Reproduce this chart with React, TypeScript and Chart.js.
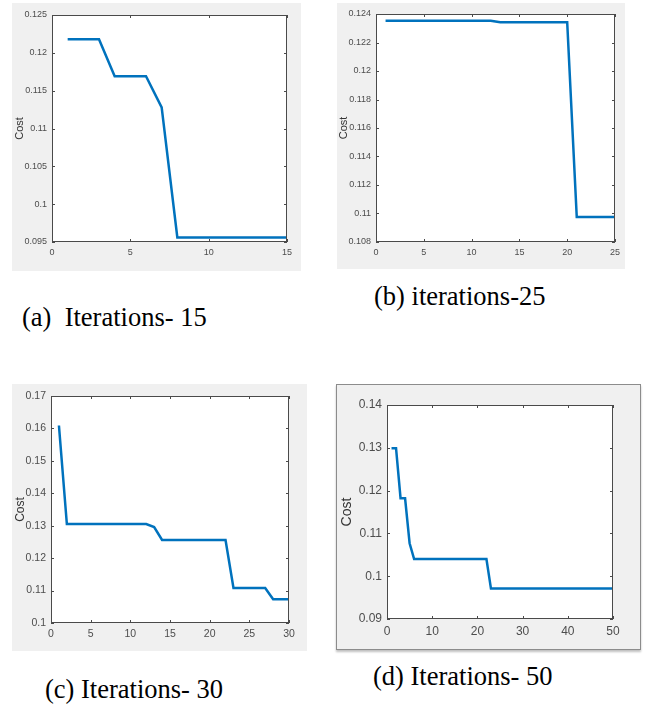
import React, { useEffect, useRef } from "react";
import { Chart, registerables } from "chart.js";

Chart.register(...registerables);

// ---- Data (cost per iteration, iteration = index + 1) ----
const costA = [0.1218, 0.1218, 0.1218, 0.1169, 0.1169, 0.1169, 0.1128, 0.0956, 0.0956, 0.0956, 0.0956, 0.0956, 0.0956, 0.0956, 0.0956];
const xTicksA = [0, 5, 10, 15];
const yTicksA = [0.095, 0.1, 0.105, 0.11, 0.115, 0.12, 0.125];

const costB = [0.12353, 0.12353, 0.12353, 0.12353, 0.12353, 0.12353, 0.12353, 0.12353, 0.12353, 0.12353, 0.12353, 0.12353, 0.12342, 0.12342, 0.12342, 0.12342, 0.12342, 0.12342, 0.12342, 0.12342, 0.10975, 0.10975, 0.10975, 0.10975, 0.10975];
const xTicksB = [0, 5, 10, 15, 20, 25];
const yTicksB = [0.108, 0.11, 0.112, 0.114, 0.116, 0.118, 0.12, 0.122, 0.124];

const costC = [0.1609, 0.1305, 0.1305, 0.1305, 0.1305, 0.1305, 0.1305, 0.1305, 0.1305, 0.1305, 0.1305, 0.1305, 0.1296, 0.1256, 0.1256, 0.1256, 0.1256, 0.1256, 0.1256, 0.1256, 0.1256, 0.1256, 0.1108, 0.1108, 0.1108, 0.1108, 0.1108, 0.1073, 0.1073, 0.1073];
const xTicksC = [0, 5, 10, 15, 20, 25, 30];
const yTicksC = [0.1, 0.11, 0.12, 0.13, 0.14, 0.15, 0.16, 0.17];

const costD = [0.1299, 0.1299, 0.1182, 0.1182, 0.1077, 0.104, 0.104, 0.104, 0.104, 0.104, 0.104, 0.104, 0.104, 0.104, 0.104, 0.104, 0.104, 0.104, 0.104, 0.104, 0.104, 0.104, 0.0971, 0.0971, 0.0971, 0.0971, 0.0971, 0.0971, 0.0971, 0.0971, 0.0971, 0.0971, 0.0971, 0.0971, 0.0971, 0.0971, 0.0971, 0.0971, 0.0971, 0.0971, 0.0971, 0.0971, 0.0971, 0.0971, 0.0971, 0.0971, 0.0971, 0.0971, 0.0971, 0.0971];
const xTicksD = [0, 10, 20, 30, 40, 50];
const yTicksD = [0.09, 0.1, 0.11, 0.12, 0.13, 0.14];

const captions = ["(a)  Iterations- 15", "(b) iterations-25", "(c) Iterations- 30", "(d) Iterations- 50"];

const LINE_COLOR = "#0072BD";
const AXIS_COLOR = "#4a4a4a";
const TICK_TEXT = "#4d4d4d";

const boxPlugin = {
  id: "matlabBox",
  beforeDatasetsDraw(chart: any) {
    const { ctx, chartArea } = chart;
    ctx.save();
    ctx.fillStyle = "#ffffff";
    ctx.fillRect(chartArea.left, chartArea.top, chartArea.right - chartArea.left, chartArea.bottom - chartArea.top);
    ctx.restore();
  },
  afterDraw(chart: any) {
    const { ctx, chartArea, scales } = chart;
    const { left, right, top, bottom } = chartArea;
    const x = scales.x;
    const y = scales.y;
    const tl = 3;
    ctx.save();
    ctx.strokeStyle = AXIS_COLOR;
    ctx.lineWidth = 1;
    ctx.beginPath();
    for (const t of x.ticks) {
      const px = Math.round(x.getPixelForValue(t.value)) + 0.5;
      ctx.moveTo(px, bottom);
      ctx.lineTo(px, bottom - tl);
      ctx.moveTo(px, top);
      ctx.lineTo(px, top + tl);
    }
    for (const t of y.ticks) {
      const py = Math.round(y.getPixelForValue(t.value)) + 0.5;
      ctx.moveTo(left, py);
      ctx.lineTo(left + tl, py);
      ctx.moveTo(right, py);
      ctx.lineTo(right - tl, py);
    }
    ctx.stroke();
    ctx.strokeRect(Math.round(left) + 0.5, Math.round(top) + 0.5, Math.round(right - left) - 1, Math.round(bottom - top) - 1);
    ctx.restore();
  },
};

type PanelProps = {
  values: number[];
  xTicks: number[];
  yTicks: number[];
  box: { left: number; top: number; width: number; height: number };
  area: { l: number; t: number; r: number; b: number };
  tickFont: number;
  titleFont: number;
  titlePad: number;
  border?: boolean;
};

function Panel(p: PanelProps) {
  const ref = useRef<HTMLCanvasElement>(null);
  useEffect(() => {
    if (!ref.current) return;
    const pts = p.values.map((v, i) => ({ x: i + 1, y: v }));
    const chart = new Chart(ref.current, {
      type: "line",
      data: {
        datasets: [
          {
            data: pts,
            borderColor: LINE_COLOR,
            borderWidth: 2.5,
            pointRadius: 0,
            tension: 0,
            fill: false,
          },
        ],
      },
      options: {
        animation: false,
        responsive: false,
        devicePixelRatio: 1,
        layout: { padding: { top: p.area.t, right: p.area.r, left: 0, bottom: 0 } },
        plugins: { legend: { display: false }, tooltip: { enabled: false } },
        scales: {
          x: {
            type: "linear",
            min: p.xTicks[0],
            max: p.xTicks[p.xTicks.length - 1],
            grid: { display: false, drawTicks: false },
            border: { display: false },
            afterBuildTicks: (s: any) => {
              s.ticks = p.xTicks.map((v) => ({ value: v }));
            },
            afterFit: (s: any) => {
              s.height = p.area.b;
            },
            ticks: {
              autoSkip: false,
              maxRotation: 0,
              padding: 5,
              color: TICK_TEXT,
              font: { family: "'Liberation Sans', Arial, sans-serif", size: p.tickFont },
              callback: (v: any) => String(v),
            },
          },
          y: {
            type: "linear",
            min: p.yTicks[0],
            max: p.yTicks[p.yTicks.length - 1],
            grid: { display: false, drawTicks: false },
            border: { display: false },
            afterBuildTicks: (s: any) => {
              s.ticks = p.yTicks.map((v) => ({ value: v }));
            },
            afterFit: (s: any) => {
              s.width = p.area.l;
            },
            title: {
              display: true,
              text: "Cost",
              color: "#333333",
              padding: { top: p.titlePad, bottom: 0 },
              font: { family: "'Liberation Sans', Arial, sans-serif", size: p.titleFont },
            },
            ticks: {
              autoSkip: false,
              padding: 5,
              color: TICK_TEXT,
              font: { family: "'Liberation Sans', Arial, sans-serif", size: p.tickFont },
              callback: (v: any) => String(parseFloat(Number(v).toFixed(4))),
            },
          },
        },
      },
      plugins: [boxPlugin],
    } as any);
    return () => chart.destroy();
  }, []);

  const b = p.box;
  return (
    <div
      style={{
        position: "absolute",
        left: b.left,
        top: b.top,
        width: b.width,
        height: b.height,
        background: "#f0f0f0",
        border: p.border ? "1px solid #8c8c8c" : "none",
        boxShadow: p.border ? "0 2px 2px rgba(0,0,0,0.25)" : "none",
      }}
    >
      <canvas
        ref={ref}
        width={b.width}
        height={b.height}
        style={{ display: "block", width: b.width, height: b.height }}
      />
    </div>
  );
}

const capStyle: React.CSSProperties = {
  position: "absolute",
  fontFamily: "'Liberation Serif', 'Times New Roman', serif",
  fontSize: 26.5,
  color: "#000",
  whiteSpace: "pre",
  lineHeight: 1,
};

export default function App() {
  return (
    <div style={{ position: "absolute", left: 0, top: 0, width: 646, height: 709, background: "#fff", overflow: "hidden" }}>
      <Panel
        values={costA}
        xTicks={xTicksA}
        yTicks={yTicksA}
        box={{ left: 12, top: 3, width: 289, height: 268 }}
        area={{ l: 40, t: 12, r: 14, b: 29 }}
        tickFont={9}
        titleFont={11}
        titlePad={1}
      />
      <Panel
        values={costB}
        xTicks={xTicksB}
        yTicks={yTicksB}
        box={{ left: 337, top: 3, width: 288, height: 266 }}
        area={{ l: 39, t: 11, r: 9, b: 27 }}
        tickFont={9}
        titleFont={11}
        titlePad={0}
      />
      <Panel
        values={costC}
        xTicks={xTicksC}
        yTicks={yTicksC}
        box={{ left: 12, top: 384, width: 295, height: 267 }}
        area={{ l: 39, t: 12, r: 18, b: 28 }}
        tickFont={10.5}
        titleFont={12}
        titlePad={1}
      />
      <Panel
        values={costD}
        xTicks={xTicksD}
        yTicks={yTicksD}
        box={{ left: 336, top: 384, width: 303, height: 264 }}
        area={{ l: 50, t: 20, r: 27, b: 30 }}
        tickFont={12}
        titleFont={14}
        titlePad={2}
        border
      />
      <div style={{ ...capStyle, left: 22, top: 304 }}>{captions[0]}</div>
      <div style={{ ...capStyle, left: 374, top: 283 }}>{captions[1]}</div>
      <div style={{ ...capStyle, left: 45, top: 676 }}>{captions[2]}</div>
      <div style={{ ...capStyle, left: 373, top: 663 }}>{captions[3]}</div>
    </div>
  );
}
